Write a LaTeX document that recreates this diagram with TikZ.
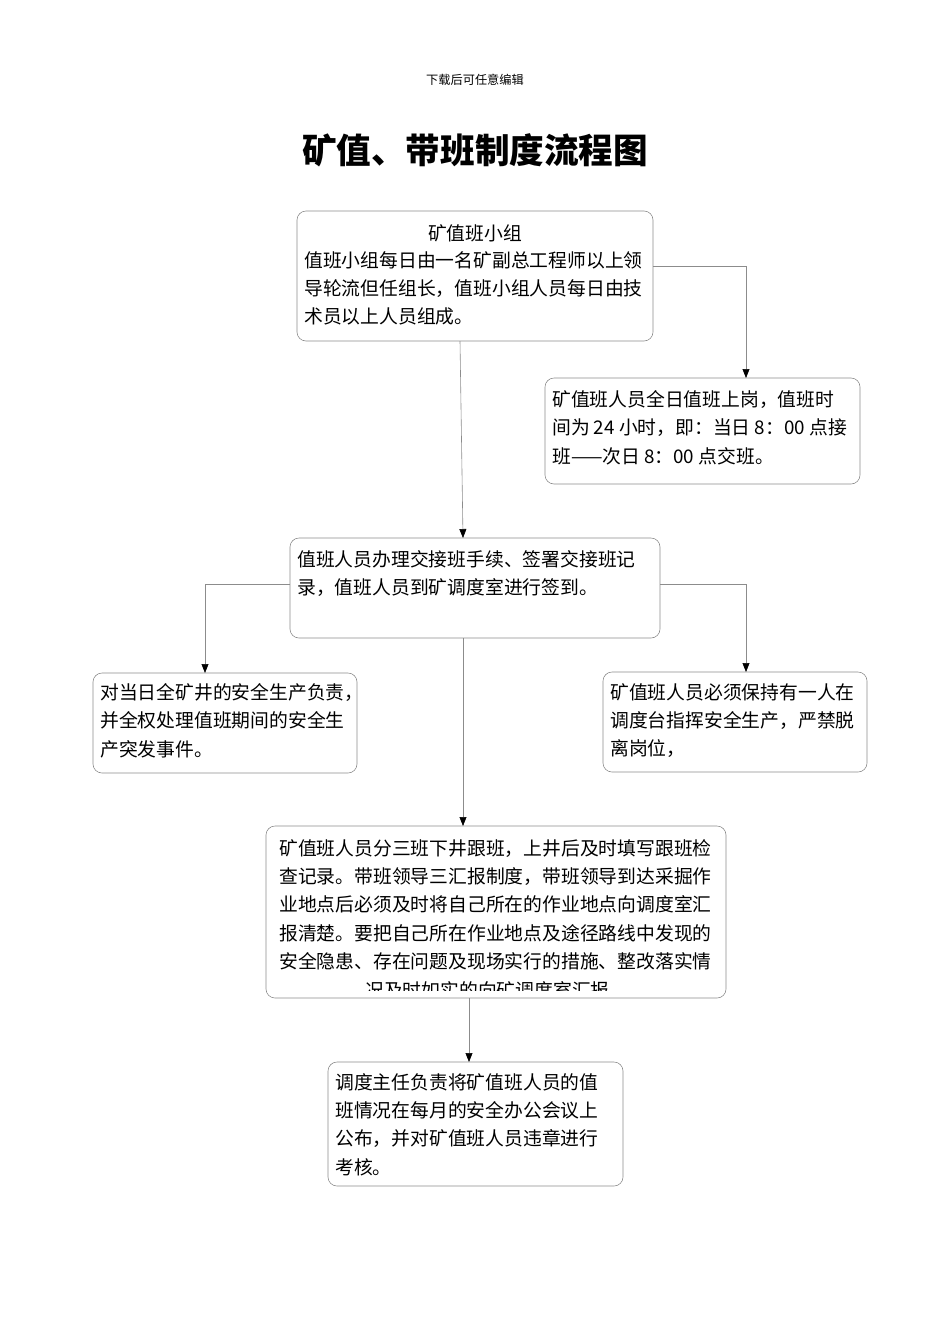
\documentclass[tikz,border=0pt]{standalone}
\usepackage{fontspec}
\setmainfont{Noto Sans CJK SC}
\usetikzlibrary{arrows.meta}
\tikzset{
 box/.style={draw=black!45,rounded corners=9pt,line width=0.6pt},
 txt/.style={anchor=north west,align=left,inner sep=0pt,font=\fontsize{18.8}{28.4}\selectfont},
 conn/.style={draw=black!45,line width=0.6pt,-{Triangle[black,length=9pt,width=7pt]}}
}
\begin{document}
\begin{tikzpicture}[x=1pt,y=-1pt]
\useasboundingbox (0,0) rectangle (950,1344);
\node (hd) at (475,80) {\fontsize{12.2}{13}\selectfont 下载后可任意编辑};
\node (tt) at (475,150) {\fontsize{34.6}{38}\selectfont\bfseries 矿值、带班制度流程图};
% B1
\draw[box] (297,211) rectangle (653,341);
\node[txt,anchor=north] (b1t) at (475,224) {矿值班小组};
\node[txt] (b1b) at (304,251) {值班小组每日由一名矿副总工程师以上领\\导轮流但任组长，值班小组人员每日由技\\术员以上人员组成。};
% B2
\draw[box] (545,378) rectangle (860,484);
\node[txt] (b2) at (552,390) {矿值班人员全日值班上岗，值班时\\间为 24 小时，即：当日 8：00 点接\\班——次日 8：00 点交班。};
% B3
\draw[box] (290,538) rectangle (660,638);
\node[txt] (b3) at (297,550) {值班人员办理交接班手续、签署交接班记\\录，值班人员到矿调度室进行签到。};
% B4
\draw[box] (93,673) rectangle (357,773);
\node[txt] (b4) at (100,683) {对当日全矿井的安全生产负责，\\并全权处理值班期间的安全生\\产突发事件。};
% B5
\draw[box] (603,672) rectangle (867,772);
\node[txt] (b5) at (610,683) {矿值班人员必须保持有一人在\\调度台指挥安全生产，严禁脱\\离岗位，};
% B6
\draw[box] (266,826) rectangle (726,998);
\begin{scope}
\clip (266,826) rectangle (726,990);
\node[txt] (b6) at (279,839) {矿值班人员分三班下井跟班，上井后及时填写跟班检\\查记录。带班领导三汇报制度，带班领导到达采掘作\\业地点后必须及时将自己所在的作业地点向调度室汇\\报清楚。要把自己所在作业地点及途径路线中发现的\\安全隐患、存在问题及现场实行的措施、整改落实情\\\hspace*{86pt}况及时如实的向矿调度室汇报};
\end{scope}
% B7
\draw[box] (328,1062) rectangle (623,1186);
\node[txt] (b7) at (335,1073) {调度主任负责将矿值班人员的值\\班情况在每月的安全办公会议上\\公布，并对矿值班人员违章进行\\考核。};
% connectors
\coordinate (c1a) at (653,266); \coordinate (c1b) at (746,266); \coordinate (c1c) at (746,378);
\draw[conn] (c1a) -- (c1b) -- (c1c);
\coordinate (c2a) at (460,341); \coordinate (c2b) at (463,538);
\draw[conn] (c2a) -- (c2b);
\coordinate (c3a) at (290,584); \coordinate (c3b) at (205,584); \coordinate (c3c) at (205,673);
\draw[conn] (c3a) -- (c3b) -- (c3c);
\coordinate (c4a) at (660,584); \coordinate (c4b) at (746,584); \coordinate (c4c) at (746,672);
\draw[conn] (c4a) -- (c4b) -- (c4c);
\coordinate (c5a) at (463,638); \coordinate (c5b) at (463,826);
\draw[conn] (c5a) -- (c5b);
\coordinate (c6a) at (469,998); \coordinate (c6b) at (469,1062);
\draw[conn] (c6a) -- (c6b);
\end{tikzpicture}
\end{document}
